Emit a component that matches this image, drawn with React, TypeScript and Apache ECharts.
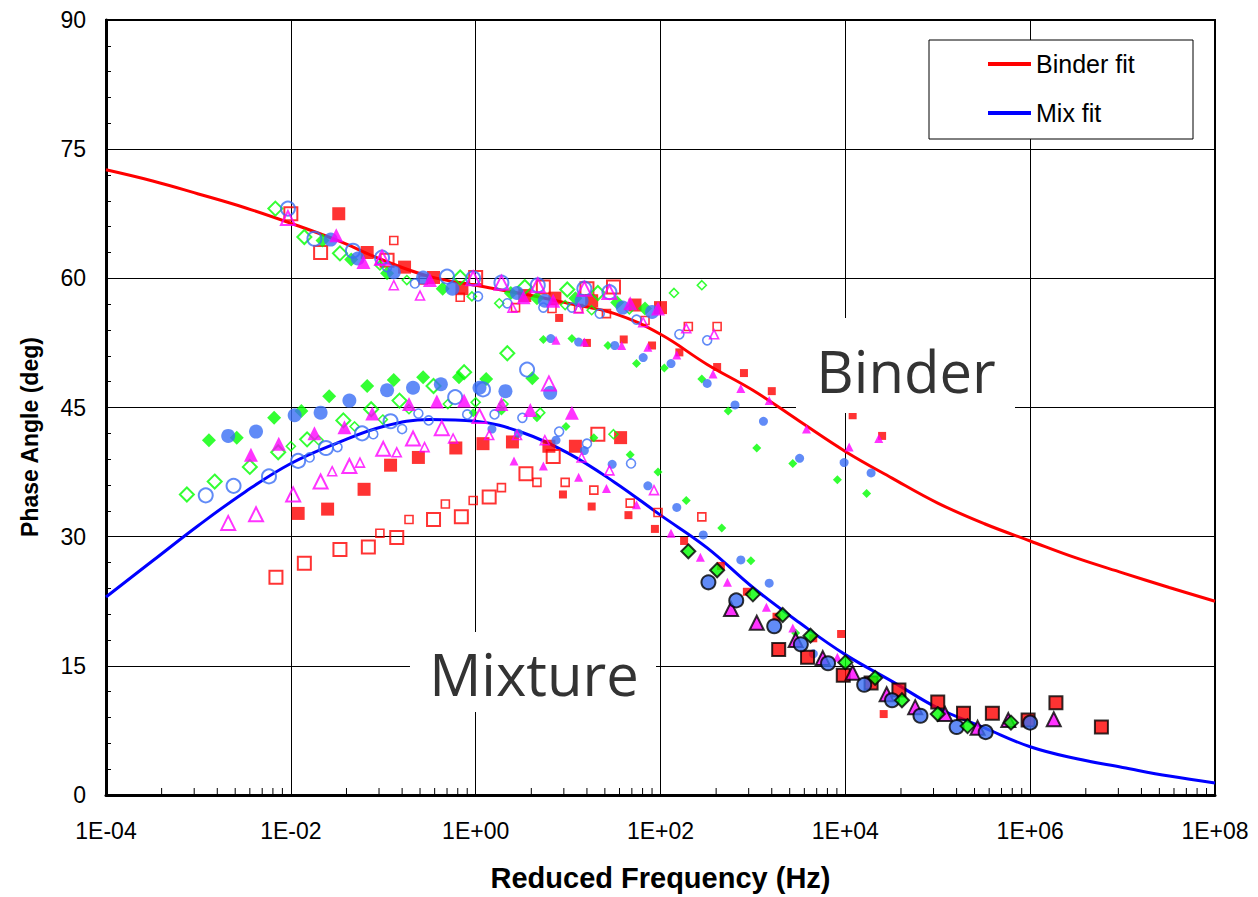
import React, { useEffect, useRef } from 'react';
import * as echarts from 'echarts';

type Pt = [number, number];

// ---------- Fit curves (frequency Hz, phase angle deg) ----------
const fitFreq = [1e-4, 3.2e-4, 1e-3, 3.2e-3, 1e-2, 3.2e-2, 1e-1, 3.2e-1, 1, 3.2, 10, 32, 100, 320, 1e3, 3.2e3, 1e4, 3.2e4, 1e5, 3.2e5, 1e6, 3.2e6, 1e7, 3.2e7, 1e8];
const binderFit = [72.6, 71.3, 69.8, 68.2, 66.4, 64.4, 62.1, 60.2, 59.2, 58.2, 57.1, 55.9, 53.5, 50.0, 47.0, 43.4, 39.9, 36.8, 33.9, 31.5, 29.5, 27.5, 25.8, 24.1, 22.5];
const mixFit = [23.0, 27.2, 31.3, 35.2, 38.5, 40.9, 42.8, 43.6, 43.4, 42.1, 39.7, 36.3, 32.5, 28.7, 24.1, 20.0, 16.3, 13.2, 10.1, 7.8, 5.6, 4.2, 3.2, 2.2, 1.4];

// ---------- Binder data ----------
const binderRedSqL: Pt[] = [[3.3e-2, 67.5], [6.7e-2, 63.0], [1.7e-1, 61.3], [3.5e-1, 60.1], [7.1e-1, 58.8], [3.4, 58.0], [7.2, 57.7], [18, 57.4], [53, 56.9], [100, 56.6]];
const binderRedSqOpenL: Pt[] = [[1.0e-2, 67.5], [2.1e-2, 63.0], [1.1e-1, 62.1], [1.0, 60.1], [5.4, 59.0], [16, 58.8], [31, 59.0]];
const binderRedSqOpenS: Pt[] = [[1.3e-1, 64.4], [2.7e-1, 59.8], [6.8e-1, 57.8], [2.7, 56.6], [6.7, 56.5], [13, 56.5], [26, 55.9], [68, 55.1], [200, 54.4], [410, 54.4]];
const binderRedSqS: Pt[] = [[8.0, 55.4], [16, 52.5], [40, 52.9], [81, 52.2], [160, 51.4], [410, 49.7], [800, 49.0], [1600, 46.9], [1.2e4, 44.1], [2.5e4, 41.7]];
const binderMagTriL: Pt[] = [[3.1e-2, 65.0], [6.1e-2, 61.9], [3.2e-1, 59.8], [3.3, 57.8], [6.9, 57.4], [47, 57.1], [94, 56.5]];
const binderMagTriOpenL: Pt[] = [[9.3e-3, 67.0], [9.7e-2, 62.4], [9.4e-1, 60.0], [1.9, 59.5], [4.7, 59.2], [15, 58.8], [28, 58.4]];
const binderMagTriOpenS: Pt[] = [[9.2e-2, 62.1], [1.3e-1, 59.2], [2.5e-1, 58.0], [2.5, 56.6], [13, 56.5], [65, 54.9], [190, 54.2], [380, 53.5]];
const binderMagTriS: Pt[] = [[7.4, 52.8], [15, 52.6], [38, 52.2], [73, 52.0], [150, 51.1], [370, 48.9], [740, 47.2], [1500, 45.8], [3800, 42.5], [1.1e4, 40.4], [2.3e4, 41.4]];
const binderGrnDiaL: Pt[] = [[2.2e-2, 64.4], [4.5e-2, 62.2], [1.1e-1, 60.6], [4.4e-1, 58.8], [2.4, 58.3], [4.6, 57.7], [12, 57.7], [34, 57.2], [68, 56.5]];
const binderGrnDiaOpenL: Pt[] = [[6.8e-3, 68.1], [1.4e-2, 64.8], [3.4e-2, 62.9], [6.8e-1, 60.1], [3.4, 59.0], [9.8, 58.7], [21, 58.3]];
const binderGrnDiaOpenS: Pt[] = [[9.2e-2, 61.5], [1.8e-1, 59.8], [9.1e-1, 57.9], [1.8, 57.1], [9.3, 56.9], [18, 56.3], [46, 56.4], [140, 58.3], [280, 59.2]];
const binderGrnDiaS: Pt[] = [[5.4, 52.9], [11, 53.0], [27, 52.2], [55, 50.1], [110, 49.6], [280, 48.3], [540, 44.6], [1100, 40.3], [2700, 38.5], [8200, 36.6], [1.7e4, 35.0]];
const binderBluCirL: Pt[] = [[2.7e-2, 64.5], [5.3e-2, 62.3], [1.3e-1, 60.7], [2.7e-1, 60.1], [5.6e-1, 58.8], [2.8, 58.3], [5.6, 57.4], [14, 57.4], [39, 56.6], [81, 56.1]];
const binderBluCirOpenL: Pt[] = [[9.3e-3, 68.1], [1.8e-2, 64.6], [4.7e-2, 63.2], [9.7e-2, 62.4], [4.9e-1, 60.2], [9.4e-1, 60.0], [1.9, 59.5], [4.7, 59.2], [15, 58.8], [28, 58.4]];
const binderBluCirOpenS: Pt[] = [[1.1e-1, 61.3], [2.2e-1, 59.4], [1.06, 57.9], [2.2, 57.1], [5.4, 56.6], [11, 56.6], [22, 55.9], [55, 55.2], [160, 53.5], [320, 52.8]];
const binderBluCirS: Pt[] = [[6.5, 53.0], [13, 52.6], [32, 52.2], [65, 50.8], [130, 50.1], [320, 47.8], [640, 45.3], [1300, 43.4], [3200, 39.1], [9700, 38.6], [1.9e4, 37.4]];

// ---------- Mixture data ----------
const mixRedSqL: Pt[] = [[1.2e-2, 32.7], [2.5e-2, 33.2], [6.2e-2, 35.5], [1.2e-1, 38.3], [2.4e-1, 39.2], [6.1e-1, 40.3], [1.2, 40.8], [2.5, 41.0], [6.2, 40.5], [12, 40.5], [37, 41.5]];
const mixRedSqOpenL: Pt[] = [[6.9e-3, 25.3], [1.4e-2, 26.9], [3.4e-2, 28.5], [6.9e-2, 28.8], [1.4e-1, 29.9], [3.5e-1, 32.0], [7.0e-1, 32.3], [1.4, 34.6], [3.5, 37.3], [6.9, 39.3], [21, 41.9]];
const mixRedSqOpenS: Pt[] = [[9.2e-2, 30.4], [1.9e-1, 32.0], [4.7e-1, 33.8], [9.4e-1, 34.2], [1.9, 35.7], [4.6, 36.3], [9.3, 36.3], [19, 35.4], [47, 33.9], [94, 32.8], [280, 32.3]];
const mixRedSqS: Pt[] = [[8.8, 34.9], [18, 33.5], [45, 32.5], [87, 30.9], [180, 29.5], [450, 26.6], [860, 23.6], [1800, 20.7], [4500, 18.2], [9000, 18.7], [2.6e4, 9.4]];
const mixMagTriL: Pt[] = [[3.7e-3, 39.5], [7.4e-3, 40.8], [1.8e-2, 42.0], [3.8e-2, 42.7], [7.6e-2, 44.3], [1.9e-1, 45.4], [3.8e-1, 45.7], [7.5e-1, 45.8], [1.9, 45.4], [3.9, 44.7], [11, 44.4]];
const mixMagTriOpenL: Pt[] = [[2.1e-3, 31.6], [4.2e-3, 32.6], [1.06e-2, 34.9], [2.1e-2, 36.4], [4.3e-2, 38.2], [1.0e-1, 40.2], [2.1e-1, 41.4], [4.3e-1, 42.6], [1.1, 44.0], [6.2, 47.8]];
const mixMagTriOpenS: Pt[] = [[2.8e-2, 37.6], [5.6e-2, 38.6], [1.4e-1, 39.8], [2.8e-1, 40.4], [5.7e-1, 41.4], [1.4, 41.8], [2.8, 41.8], [5.6, 41.2], [14, 39.2], [28, 37.7], [85, 35.4]];
const mixMagTriS: Pt[] = [[2.6, 38.8], [5.4, 38.2], [13, 36.9], [26, 35.6], [55, 33.7], [130, 30.4], [270, 27.6], [530, 24.7], [1400, 21.8], [2700, 19.4], [8200, 16.0]];
const mixGrnDiaL: Pt[] = [[1.3e-3, 41.2], [2.6e-3, 41.5], [6.6e-3, 43.8], [1.3e-2, 44.6], [2.6e-2, 46.3], [6.7e-2, 47.5], [1.3e-1, 48.2], [2.7e-1, 48.5], [6.6e-1, 48.5], [1.3, 48.3], [4.1, 48.4]];
const mixGrnDiaOpenL: Pt[] = [[7.5e-4, 34.9], [1.5e-3, 36.4], [3.6e-3, 38.1], [7.3e-3, 39.8], [1.5e-2, 41.3], [3.7e-2, 43.5], [7.4e-2, 44.8], [1.5e-1, 45.8], [3.5e-1, 47.5], [7.5e-1, 49.1], [2.2, 51.3]];
const mixGrnDiaOpenS: Pt[] = [[1.0e-2, 40.5], [2.0e-2, 41.2], [4.9e-2, 42.8], [9.9e-2, 43.6], [1.9e-1, 44.8], [5.0e-1, 45.4], [1.0, 45.6], [2.0, 45.4], [5.0, 44.4], [31, 41.9]];
const mixGrnDiaS: Pt[] = [[9.4e-1, 44.4], [1.9, 44.6], [4.6, 43.8], [9.5, 42.8], [19, 41.5], [47, 39.5], [94, 37.5], [190, 34.2], [460, 31.0], [950, 27.2], [2900, 18.8]];
const mixBluCirL: Pt[] = [[2.1e-3, 41.7], [4.2e-3, 42.2], [1.1e-2, 44.1], [2.1e-2, 44.4], [4.3e-2, 45.8], [1.1e-1, 47.0], [2.1e-1, 47.3], [4.2e-1, 47.7], [1.1, 47.3], [2.1, 46.9], [6.4, 46.7]];
const mixBluCirOpenL: Pt[] = [[1.2e-3, 34.8], [2.4e-3, 35.9], [5.8e-3, 37.0], [1.2e-2, 38.8], [2.4e-2, 40.3], [5.9e-2, 42.0], [1.2e-1, 43.4], [6.0e-1, 46.2], [1.2, 47.1], [3.6, 49.4]];
const mixBluCirOpenS: Pt[] = [[1.6e-2, 39.2], [3.2e-2, 40.4], [7.8e-2, 41.9], [1.6e-1, 42.5], [2.4e-1, 44.3], [3.1e-1, 43.5], [8.1e-1, 44.2], [1.6, 44.2], [3.2, 43.8], [8.0, 42.2], [16, 40.8], [48, 38.5]];
const mixBluCirS: Pt[] = [[1.5, 42.5], [2.9, 42.0], [7.4, 41.2], [15, 40.0], [30, 38.4], [73, 35.9], [150, 33.4], [290, 30.2], [740, 27.3], [1500, 24.6], [4500, 16.4]];
const mixRedSqHi: Pt[] = [[1.9e3, 16.9], [3.9e3, 16.0], [9.5e3, 13.9], [1.9e4, 13.0], [3.8e4, 12.2], [1.0e5, 10.8], [1.9e5, 9.5], [3.9e5, 9.5], [9.5e5, 8.7], [1.9e6, 10.7], [5.9e6, 7.9]];
const mixMagTriHi: Pt[] = [[5.8e2, 21.6], [1.1e3, 20.0], [2.9e3, 18.0], [5.7e3, 15.9], [1.2e4, 14.2], [2.8e4, 11.7], [5.7e4, 10.2], [1.2e5, 9.4], [2.7e5, 7.8], [5.8e5, 8.7], [1.8e6, 8.8]];
const mixBluCirHi: Pt[] = [[3.3e2, 24.7], [6.6e2, 22.6], [1.7e3, 19.6], [3.3e3, 17.5], [6.5e3, 15.3], [1.6e4, 12.8], [3.2e4, 11.0], [6.5e4, 9.2], [1.6e5, 7.9], [3.3e5, 7.3], [1.0e6, 8.4]];
const mixGrnDiaHi: Pt[] = [[2.0e2, 28.3], [4.1e2, 26.1], [1.0e3, 23.3], [2.1e3, 20.9], [4.2e3, 18.5], [1.0e4, 15.4], [2.1e4, 13.6], [4.1e4, 11.0], [1.0e5, 9.4], [2.1e5, 8.0], [6.2e5, 8.4]];

const xTickExponents = [-4, -2, 0, 2, 4, 6, 8];
const yTicks = [0, 15, 30, 45, 60, 75, 90];

const RED = '#FF0000';
const MAG = '#FF00FF';
const GRN = '#00FF00';
const BLU = '#3A6EF5';

const FONT = '"Liberation Sans", Arial, sans-serif';

function scatter(name: string, data: Pt[], symbol: string, color: string, kind: 'L' | 'OL' | 'S' | 'OS' | 'H') {
  const big = kind === 'L' || kind === 'OL' || kind === 'H';
  let size = big ? 14 : 9;
  if (symbol === 'rect') size -= 1;
  if (kind === 'H') size = symbol === 'rect' ? 13 : 14;
  let itemStyle: any;
  if (kind === 'L' || kind === 'S') itemStyle = { color, borderWidth: 0 };
  else if (kind === 'H') itemStyle = { color, borderColor: '#000', borderWidth: 2 };
  else itemStyle = { color: 'rgba(0,0,0,0)', borderColor: color, borderWidth: kind === 'OL' ? 2 : 1.6 };
  return {
    type: 'scatter',
    name,
    data,
    symbol,
    symbolSize: size,
    itemStyle,
    silent: true,
    z: 3,
  };
}

function fmtFreq(v: number) {
  const e = Math.round(Math.log10(v));
  return '1E' + (e < 0 ? '-' : '+') + String(Math.abs(e)).padStart(2, '0');
}

export default function App() {
  const ref = useRef<HTMLDivElement>(null);
  useEffect(() => {
    if (!ref.current) return;
    const chart = echarts.init(ref.current, undefined, { renderer: 'svg' });

    const minorTicks: Pt[] = [];
    for (let i = 0; i < xTickExponents.length - 1; i++) {
      for (let k = 2; k <= 9; k++) minorTicks.push([k * k * Math.pow(10, xTickExponents[i]), 0]);
    }

    const option: any = {
      animation: false,
      backgroundColor: '#fff',
      grid: { left: 106, right: 43, top: 20, bottom: 102, show: true, borderColor: '#000', borderWidth: 2 },
      legend: {
        data: ['Binder fit', 'Mix fit'],
        orient: 'vertical',
        left: 988,
        top: 50,
        padding: 0,
        itemWidth: 43,
        itemHeight: 4,
        itemGap: 21,
        icon: 'rect',
        textStyle: { fontSize: 25, fontFamily: FONT, color: '#000', lineHeight: 28 },
        z: 9,
      },
      xAxis: {
        type: 'log',
        logBase: 100,
        min: Math.pow(10, xTickExponents[0]),
        max: Math.pow(10, xTickExponents[xTickExponents.length - 1]),
        name: 'Reduced Frequency (Hz)',
        nameLocation: 'middle',
        nameGap: 68,
        nameTextStyle: { fontSize: 29, fontWeight: 'bold', fontFamily: FONT, color: '#000' },
        axisLine: { show: true, onZero: false, lineStyle: { color: '#000', width: 3 } },
        axisTick: { show: true, inside: true, length: 6, lineStyle: { color: '#000' } },
        splitLine: { show: true, lineStyle: { color: '#000', width: 1 } },
        axisLabel: { formatter: fmtFreq, fontSize: 23, fontFamily: FONT, color: '#000', margin: 24 },
      },
      yAxis: {
        type: 'value',
        min: yTicks[0],
        max: yTicks[yTicks.length - 1],
        interval: 15,
        axisLine: { show: true, onZero: false, lineStyle: { color: '#000', width: 3 } },
        axisTick: { show: true, inside: true, length: 6, lineStyle: { color: '#000' } },
        minorTick: { show: true, splitNumber: 5, length: 5, lineStyle: { color: '#000' } },
        splitLine: { show: true, lineStyle: { color: '#000', width: 1 } },
        axisLabel: { fontSize: 23, fontFamily: FONT, color: '#000', margin: 20 },
      },
      graphic: [
        { type: 'rect', z: 8, shape: { x: 929, y: 40, width: 264, height: 99 }, style: { fill: '#fff', stroke: '#000', lineWidth: 1 } },
        { type: 'rect', z: 8, shape: { x: 796, y: 318, width: 219, height: 95 }, style: { fill: '#fff' } },
        { type: 'text', z: 9, x: 906, y: 370, style: { text: 'Binder', font: '58px "Open Sans", "Noto Sans", sans-serif', fill: '#333', textAlign: 'center', textVerticalAlign: 'middle' } },
        { type: 'rect', z: 8, shape: { x: 410, y: 632, width: 246, height: 80 }, style: { fill: '#fff' } },
        { type: 'text', z: 9, x: 534, y: 673, style: { text: 'Mixture', font: '58px "Open Sans", "Noto Sans", sans-serif', fill: '#333', textAlign: 'center', textVerticalAlign: 'middle' } },
        { type: 'text', z: 9, x: 30, y: 437, rotation: Math.PI / 2, style: { text: 'Phase Angle (deg)', font: 'bold 23px "Liberation Sans", Arial, sans-serif', fill: '#000', textAlign: 'center', textVerticalAlign: 'middle' } },
      ],
      series: [
        {
          type: 'custom',
          name: 'minor ticks',
          silent: true,
          z: 6,
          clip: false,
          data: minorTicks,
          renderItem: (_p: any, api: any) => {
            const c = api.coord([api.value(0), api.value(1)]);
            return { type: 'line', shape: { x1: c[0], y1: c[1] - 1, x2: c[0], y2: c[1] - 7 }, style: { stroke: '#000', lineWidth: 1 } };
          },
        },
        {
          type: 'line', name: 'Binder fit', data: fitFreq.map((f, i) => [f, binderFit[i]]), smooth: 0.4, showSymbol: false,
          lineStyle: { color: RED, width: 3 }, itemStyle: { color: RED }, z: 2, silent: true,
        },
        {
          type: 'line', name: 'Mix fit', data: fitFreq.map((f, i) => [f, mixFit[i]]), smooth: 0.4, showSymbol: false,
          lineStyle: { color: '#0000FF', width: 3 }, itemStyle: { color: '#0000FF' }, z: 2, silent: true,
        },
        // Binder
        scatter('B red L', binderRedSqL, 'rect', RED, 'L'),
        scatter('B red OL', binderRedSqOpenL, 'rect', RED, 'OL'),
        scatter('B red OS', binderRedSqOpenS, 'rect', RED, 'OS'),
        scatter('B red S', binderRedSqS, 'rect', RED, 'S'),
        scatter('B grn L', binderGrnDiaL, 'diamond', GRN, 'L'),
        scatter('B grn OL', binderGrnDiaOpenL, 'diamond', GRN, 'OL'),
        scatter('B grn OS', binderGrnDiaOpenS, 'diamond', GRN, 'OS'),
        scatter('B grn S', binderGrnDiaS, 'diamond', GRN, 'S'),
        scatter('B blu L', binderBluCirL, 'circle', BLU, 'L'),
        scatter('B blu OL', binderBluCirOpenL, 'circle', BLU, 'OL'),
        scatter('B blu OS', binderBluCirOpenS, 'circle', BLU, 'OS'),
        scatter('B blu S', binderBluCirS, 'circle', BLU, 'S'),
        scatter('B mag L', binderMagTriL, 'triangle', MAG, 'L'),
        scatter('B mag OL', binderMagTriOpenL, 'triangle', MAG, 'OL'),
        scatter('B mag OS', binderMagTriOpenS, 'triangle', MAG, 'OS'),
        scatter('B mag S', binderMagTriS, 'triangle', MAG, 'S'),
        // Mixture
        scatter('M red L', mixRedSqL, 'rect', RED, 'L'),
        scatter('M red OL', mixRedSqOpenL, 'rect', RED, 'OL'),
        scatter('M red OS', mixRedSqOpenS, 'rect', RED, 'OS'),
        scatter('M red S', mixRedSqS, 'rect', RED, 'S'),
        scatter('M grn L', mixGrnDiaL, 'diamond', GRN, 'L'),
        scatter('M grn OL', mixGrnDiaOpenL, 'diamond', GRN, 'OL'),
        scatter('M grn OS', mixGrnDiaOpenS, 'diamond', GRN, 'OS'),
        scatter('M grn S', mixGrnDiaS, 'diamond', GRN, 'S'),
        scatter('M blu L', mixBluCirL, 'circle', BLU, 'L'),
        scatter('M blu OL', mixBluCirOpenL, 'circle', BLU, 'OL'),
        scatter('M blu OS', mixBluCirOpenS, 'circle', BLU, 'OS'),
        scatter('M blu S', mixBluCirS, 'circle', BLU, 'S'),
        scatter('M mag L', mixMagTriL, 'triangle', MAG, 'L'),
        scatter('M mag OL', mixMagTriOpenL, 'triangle', MAG, 'OL'),
        scatter('M mag OS', mixMagTriOpenS, 'triangle', MAG, 'OS'),
        scatter('M mag S', mixMagTriS, 'triangle', MAG, 'S'),
        scatter('M red H', mixRedSqHi, 'rect', RED, 'H'),
        scatter('M mag H', mixMagTriHi, 'triangle', MAG, 'H'),
        scatter('M blu H', mixBluCirHi, 'circle', BLU, 'H'),
        scatter('M grn H', mixGrnDiaHi, 'diamond', GRN, 'H'),
      ],
    };
    chart.setOption(option);
    return () => chart.dispose();
  }, []);
  return <div ref={ref} style={{ position: 'absolute', left: 0, top: 0, width: 1258, height: 897 }} />;
}
